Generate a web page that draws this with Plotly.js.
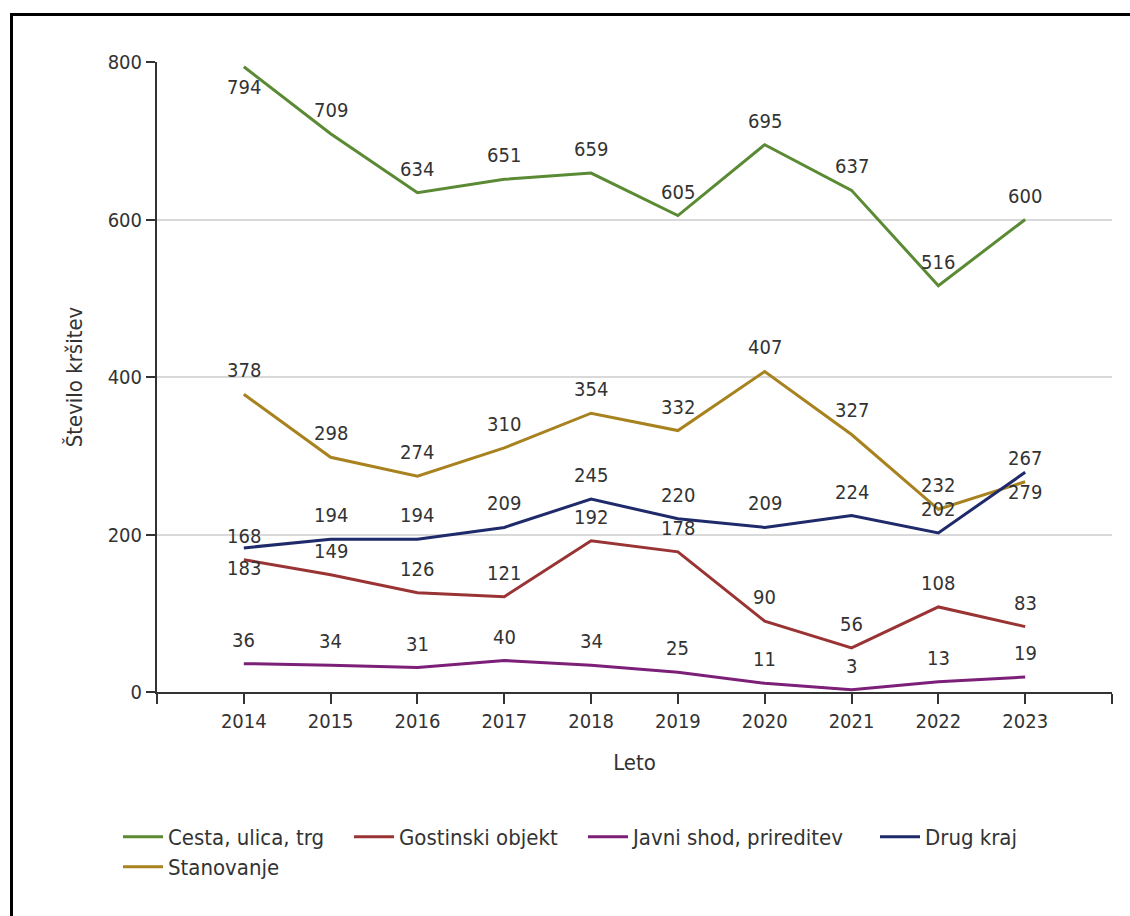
<!DOCTYPE html>
<html>
<head>
<meta charset="utf-8">
<script src="https://cdn.plot.ly/plotly-3.0.1.min.js"></script>
<style>
  html, body { margin: 0; padding: 0; background: #fff; }
  #chart { width: 1130px; height: 916px; position: absolute; left: 0; top: 0; }
  #frame { position: absolute; left: 10px; top: 13px; width: 1300px; height: 1100px;
           border-left: 3px solid #000; border-top: 3px solid #000; pointer-events: none; }
</style>
</head>
<body>
<div id="chart"></div>
<div id="frame"></div>
<script>
// ---- data ----
const years = [2014, 2015, 2016, 2017, 2018, 2019, 2020, 2021, 2022, 2023];
const cesta = [794, 709, 634, 651, 659, 605, 695, 637, 516, 600];
const gostinski = [168, 149, 126, 121, 192, 178, 90, 56, 108, 83];
const javni = [36, 34, 31, 40, 34, 25, 11, 3, 13, 19];
const drugKraj = [183, 194, 194, 209, 245, 220, 209, 224, 202, 279];
const stanovanje = [378, 298, 274, 310, 354, 332, 407, 327, 232, 267];
const tickYears = [2013, 2014, 2015, 2016, 2017, 2018, 2019, 2020, 2021, 2022, 2023, 2024];
const tickLabels = ['', '2014', '2015', '2016', '2017', '2018', '2019', '2020', '2021', '2022', '2023', ''];
const seriesNames = ['Cesta, ulica, trg', 'Gostinski objekt', 'Javni shod, prireditev', 'Drug kraj', 'Stanovanje'];

// ---- style ----
const FONT = "Tahoma, 'DejaVu Sans Condensed', 'Noto Sans', sans-serif";
const TXT = '#333333';
const colors = {
  cesta: '#5b8a34',
  gostinski: '#9a3434',
  javni: '#7b1f78',
  drug: '#1f2a6b',
  stan: '#a8821f'
};
// labels that sit below their point (index into years)
const belowLabels = { cesta: [0], drug: [0, 9] };

const series = [
  { key: 'stan', name: seriesNames[4], y: stanovanje, legend: 'legend2', lw: 130 },
  { key: 'cesta', name: seriesNames[0], y: cesta, legend: 'legend', lw: 176 },
  { key: 'gostinski', name: seriesNames[1], y: gostinski, legend: 'legend', lw: 179 },
  { key: 'javni', name: seriesNames[2], y: javni, legend: 'legend', lw: 237 },
  { key: 'drug', name: seriesNames[3], y: drugKraj, legend: 'legend', lw: 115 }
];

const traces = series.map(s => ({
  type: 'scatter',
  mode: 'lines',
  x: years,
  y: s.y,
  name: s.name,
  legend: s.legend,
  legendwidth: s.lw,
  line: { color: colors[s.key], width: 3 },
  hoverinfo: 'x+y+name'
}));

const annotations = [];
series.forEach(s => {
  const below = belowLabels[s.key] || [];
  s.y.forEach((v, i) => {
    annotations.push({
      x: years[i], y: v, xref: 'x', yref: 'y',
      text: String(v), showarrow: false,
      yshift: below.includes(i) ? -20 : 24,
      font: { family: FONT, size: 20, color: TXT }
    });
  });
});

const layout = {
  width: 1130, height: 916,
  margin: { l: 157, r: 18, t: 62, b: 224 },
  paper_bgcolor: '#ffffff',
  plot_bgcolor: '#ffffff',
  font: { family: FONT, size: 20, color: TXT },
  showlegend: true,
  xaxis: {
    range: [2013, 2024],
    tickmode: 'array',
    tickvals: tickYears,
    ticktext: tickLabels,
    showgrid: false,
    zeroline: false,
    showline: true,
    linecolor: '#333333',
    linewidth: 2,
    ticks: 'outside',
    ticklen: 10,
    tickwidth: 2,
    tickcolor: '#333333',
    tickfont: { family: FONT, size: 20, color: TXT },
    title: { text: 'Leto', font: { family: FONT, size: 22, color: TXT }, standoff: 23 },
    fixedrange: true
  },
  yaxis: {
    range: [0, 800],
    tickmode: 'linear',
    tick0: 0,
    dtick: 200,
    showgrid: true,
    gridcolor: '#d9d9d9',
    gridwidth: 2,
    zeroline: false,
    showline: true,
    linecolor: '#333333',
    linewidth: 2,
    ticks: 'outside',
    ticklen: 9,
    tickwidth: 2,
    tickcolor: '#333333',
    tickfont: { family: FONT, size: 20, color: TXT },
    title: { text: 'Število kršitev', font: { family: FONT, size: 22, color: TXT }, standoff: 19 },
    fixedrange: true
  },
  legend: {
    orientation: 'h',
    xref: 'container', yref: 'container',
    x: 118 / 1130, xanchor: 'left',
    y: 1 - 816 / 916, yanchor: 'top',
    font: { family: FONT, size: 22, color: TXT },
    itemwidth: 40,
    bgcolor: 'rgba(0,0,0,0)',
    borderwidth: 0
  },
  legend2: {
    orientation: 'h',
    xref: 'container', yref: 'container',
    x: 118 / 1130, xanchor: 'left',
    y: 1 - 846 / 916, yanchor: 'top',
    font: { family: FONT, size: 22, color: TXT },
    itemwidth: 40,
    bgcolor: 'rgba(0,0,0,0)',
    borderwidth: 0
  },
  annotations: annotations
};

Plotly.newPlot('chart', traces, layout, { displayModeBar: false, staticPlot: true });
</script>
</body>
</html>
